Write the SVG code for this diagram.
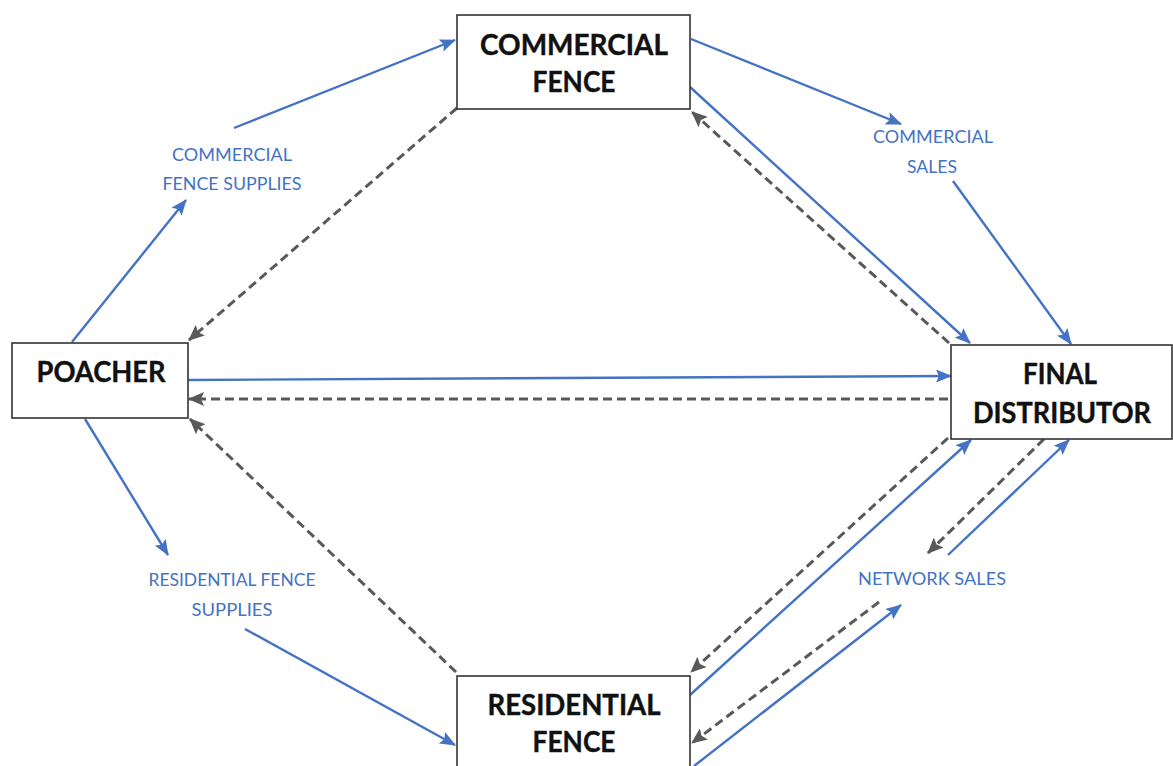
<svg xmlns="http://www.w3.org/2000/svg" width="1173" height="766" viewBox="0 0 1173 766">
  <style>
    .box { fill: #ffffff; stroke: #333333; stroke-width: 1.6; }
    .node-label { font-family: Lato, "Open Sans", "Liberation Sans", sans-serif; font-weight: bold; font-size: 28px; fill: #111111; stroke: #111111; stroke-width: 0.4; }
    .flow-label { font-family: Lato, "Open Sans", "Liberation Sans", sans-serif; font-size: 18px; fill: #4472C4; }
    .goods { stroke: #4472C4; stroke-width: 2.4; fill: none; marker-end: url(#blue-head); }
    .payment { stroke: #595959; stroke-width: 3; stroke-dasharray: 9 5; fill: none; marker-end: url(#grey-head); }
  </style>
  <defs>
    <marker id="blue-head" viewBox="0 0 16 13" refX="15" refY="6.5" markerWidth="16" markerHeight="13" markerUnits="userSpaceOnUse" orient="auto">
      <path d="M0,0 L16,6.5 L0,13 L3,6.5 z" fill="#4472C4"/>
    </marker>
    <marker id="grey-head" viewBox="0 0 16 14" refX="15" refY="7" markerWidth="16" markerHeight="14" markerUnits="userSpaceOnUse" orient="auto">
      <path d="M0,0 L16,7 L0,14 L3,7 z" fill="#595959"/>
    </marker>
  </defs>

  <rect width="1173" height="766" fill="#ffffff"/>

  <!-- flows between actors -->
  <g id="connectors">
    <!-- poacher to commercial fence -->
    <line class="goods" x1="72" y1="342" x2="186" y2="200"/>
    <line class="goods" x1="234" y1="128" x2="455" y2="40"/>
    <!-- commercial fence to final distributor -->
    <line class="goods" x1="691" y1="39" x2="901" y2="124"/>
    <line class="goods" x1="953" y1="181" x2="1071" y2="344"/>
    <line class="goods" x1="690" y1="87" x2="970" y2="343"/>
    <line class="payment" x1="949" y1="343" x2="692" y2="112"/>
    <!-- commercial fence to poacher -->
    <line class="payment" x1="457" y1="108" x2="189" y2="340"/>
    <!-- poacher and final distributor -->
    <line class="goods" x1="188" y1="380" x2="951" y2="376"/>
    <line class="payment" x1="948" y1="399" x2="189" y2="399"/>
    <!-- residential fence to poacher -->
    <line class="payment" x1="456" y1="672" x2="190" y2="419"/>
    <!-- poacher to residential fence -->
    <line class="goods" x1="85" y1="419" x2="168" y2="555"/>
    <line class="goods" x1="245" y1="629" x2="455" y2="745"/>
    <!-- residential fence and final distributor -->
    <line class="payment" x1="948" y1="438" x2="691" y2="672"/>
    <line class="goods" x1="690" y1="695" x2="971" y2="440"/>
    <!-- network sales -->
    <line class="payment" x1="1044" y1="439" x2="928" y2="553"/>
    <line class="goods" x1="948" y1="555" x2="1069" y2="440"/>
    <line class="payment" x1="879" y1="602" x2="692" y2="743"/>
    <line class="goods" x1="694" y1="766" x2="901" y2="605"/>
  </g>

  <g id="commercial-fence">
    <rect class="box" x="457" y="15" width="233" height="94"/>
    <text class="node-label" x="574" y="55" text-anchor="middle" textLength="188" lengthAdjust="spacingAndGlyphs">COMMERCIAL</text>
    <text class="node-label" x="574" y="92" text-anchor="middle" textLength="83" lengthAdjust="spacingAndGlyphs">FENCE</text>
  </g>

  <g id="poacher">
    <rect class="box" x="12" y="343" width="176" height="75"/>
    <text class="node-label" x="101" y="382" text-anchor="middle" textLength="129" lengthAdjust="spacingAndGlyphs">POACHER</text>
  </g>

  <g id="final-distributor">
    <rect class="box" x="951" y="345" width="221" height="94"/>
    <text class="node-label" x="1060" y="384" text-anchor="middle" textLength="74" lengthAdjust="spacingAndGlyphs">FINAL</text>
    <text class="node-label" x="1062" y="423" text-anchor="middle" textLength="178" lengthAdjust="spacingAndGlyphs">DISTRIBUTOR</text>
  </g>

  <g id="residential-fence">
    <rect class="box" x="457" y="676" width="233" height="100"/>
    <text class="node-label" x="574" y="715" text-anchor="middle" textLength="173" lengthAdjust="spacingAndGlyphs">RESIDENTIAL</text>
    <text class="node-label" x="574" y="752" text-anchor="middle" textLength="83" lengthAdjust="spacingAndGlyphs">FENCE</text>
  </g>

  <g id="flow-labels">
    <text class="flow-label" x="232" y="161" text-anchor="middle" textLength="120" lengthAdjust="spacingAndGlyphs">COMMERCIAL</text>
    <text class="flow-label" x="232" y="190" text-anchor="middle" textLength="139" lengthAdjust="spacingAndGlyphs">FENCE SUPPLIES</text>
    <text class="flow-label" x="933" y="143" text-anchor="middle" textLength="120" lengthAdjust="spacingAndGlyphs">COMMERCIAL</text>
    <text class="flow-label" x="932" y="173" text-anchor="middle" textLength="50" lengthAdjust="spacingAndGlyphs">SALES</text>
    <text class="flow-label" x="232" y="586" text-anchor="middle" textLength="167" lengthAdjust="spacingAndGlyphs">RESIDENTIAL FENCE</text>
    <text class="flow-label" x="232" y="616" text-anchor="middle" textLength="81" lengthAdjust="spacingAndGlyphs">SUPPLIES</text>
    <text class="flow-label" x="932" y="585" text-anchor="middle" textLength="148" lengthAdjust="spacingAndGlyphs">NETWORK SALES</text>
  </g>
</svg>
